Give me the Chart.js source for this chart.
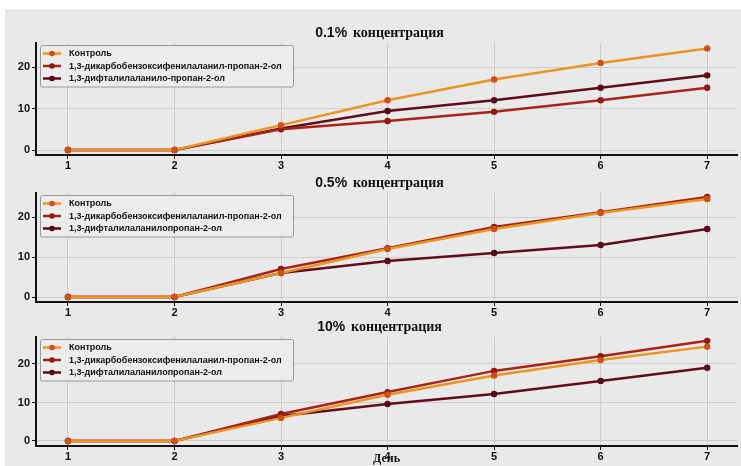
<!DOCTYPE html>
<html>
<head>
<meta charset="utf-8">
<script src="https://cdn.jsdelivr.net/npm/chart.js@4.4.1/dist/chart.umd.min.js"></script>
<style>
  html, body { margin: 0; padding: 0; background: #fff; }
  #wrap { position: relative; width: 741px; height: 466px; overflow: hidden; }
  #bg { position: absolute; left: 5px; top: 9px; right: 0; bottom: 0; background: #e9e9e9; }
  canvas { position: absolute; left: 0; }
</style>
</head>
<body>
<div id="wrap">
  <div id="bg"></div>
  <canvas id="c1" width="741" height="155" style="top:18px"></canvas>
  <canvas id="c2" width="741" height="148" style="top:172px"></canvas>
  <canvas id="c3" width="741" height="150" style="top:316px"></canvas>
</div>
<script>
// data
const days = [1, 2, 3, 4, 5, 6, 7];
const yTicks = [0, 10, 20];
const percents = ['0.1%', '0.5%', '10%'];
const titleWord = 'концентрация';
const xTitle = 'День';

const names01 = ['Контроль', '1,3-дикарбобензоксифенилаланил-пропан-2-ол', '1,3-дифталилаланило-пропан-2-ол'];
const names05 = ['Контроль', '1,3-дикарбобензоксифенилаланил-пропан-2-ол', '1,3-дифталилаланилопропан-2-ол'];
const names10 = ['Контроль', '1,3-дикарбобензоксифенилаланил-пропан-2-ол', '1,3-дифталилаланилопропан-2-ол'];

const control01 = [0, 0, 6, 12, 17, 21, 24.5];
const dikarbo01 = [0, 0, 5, 7, 9.2, 12, 15];
const diftal01 = [0, 0, 5.2, 9.4, 12, 15, 18];

const control05 = [0, 0, 6, 12, 17, 21, 24.5];
const dikarbo05 = [0, 0, 7, 12.2, 17.5, 21.2, 25];
const diftal05 = [0, 0, 6, 9, 11, 13, 17];

const control10 = [0, 0, 6, 12, 17, 21, 24.5];
const dikarbo10 = [0, 0, 7, 12.7, 18.2, 22, 26];
const diftal10 = [0, 0, 6.5, 9.6, 12.2, 15.6, 19];

const lineColors = ['#eb9420', '#a82418', '#620b1c'];
const pointColors = ['#cf4f18', '#8e1a12', '#560818'];

// titles: mixed sans percent + serif word, centred over plot
const titlePlugin = {
  id: 'panelTitle',
  afterDraw(chart) {
    const o = chart.options.plugins.panelTitle;
    const ctx = chart.ctx, a = chart.chartArea;
    ctx.save();
    const f1 = 'bold 14px "Liberation Sans", Arial, sans-serif';
    const f2 = 'bold 14px "Liberation Serif", "Times New Roman", serif';
    ctx.font = f1; const w1 = ctx.measureText(o.pct + ' ').width;
    ctx.font = f2; const w2 = ctx.measureText(titleWord).width;
    let x = (a.left + a.right) / 2 - 8 - (w1 + w2) / 2;
    const y = a.top - 10;
    ctx.fillStyle = '#111';
    ctx.textBaseline = 'middle';
    ctx.font = f1; ctx.fillText(o.pct + ' ', x, y);
    ctx.font = f2; ctx.fillText(titleWord, x + w1 + 2, y);
    ctx.restore();
  }
};

// matplotlib-style legend box inside the plot, upper left
const boxLegend = {
  id: 'boxLegend',
  afterDatasetsDraw(chart) {
    const ctx = chart.ctx, a = chart.chartArea;
    const x0 = a.left + 4, y0 = a.top + 2, w = 253, row = 12.5;
    const h = chart.data.datasets.length * row + 4;
    ctx.save();
    ctx.fillStyle = 'rgba(236,236,236,0.95)';
    ctx.strokeStyle = '#9a9a9a';
    ctx.lineWidth = 1;
    ctx.beginPath();
    ctx.roundRect(x0 + 0.5, y0 + 0.5, w, h, 2);
    ctx.fill(); ctx.stroke();
    ctx.font = 'bold 9px "Liberation Sans", Arial, sans-serif';
    ctx.textBaseline = 'middle';
    chart.data.datasets.forEach((ds, i) => {
      const y = y0 + 8.5 + i * row;
      ctx.strokeStyle = ds.borderColor;
      ctx.lineWidth = 2.5;
      ctx.beginPath(); ctx.moveTo(x0 + 3, y); ctx.lineTo(x0 + 21, y); ctx.stroke();
      ctx.fillStyle = ds.pointBackgroundColor;
      ctx.beginPath(); ctx.arc(x0 + 12, y, 2.8, 0, Math.PI * 2); ctx.fill();
      ctx.fillStyle = '#111';
      ctx.fillText(ds.label, x0 + 29, y + 0.5);
    });
    ctx.restore();
  }
};

function makePanel(id, pct, names, series, yMin, yMax, padTop, xHeight, showXTitle) {
  const datasets = series.map((vals, i) => ({
    label: names[i],
    data: days.map((d, k) => ({ x: d, y: vals[k] })),
    borderColor: lineColors[i],
    backgroundColor: lineColors[i],
    pointBackgroundColor: pointColors[i],
    pointBorderWidth: 0,
    borderWidth: 2.5,
    pointRadius: 3.2,
    tension: 0
  }));
  return new Chart(document.getElementById(id), {
    type: 'line',
    data: { datasets },
    plugins: [titlePlugin, boxLegend],
    options: {
      responsive: false,
      animation: false,
      layout: { padding: { top: padTop, right: 0, bottom: 0, left: 0 } },
      plugins: {
        legend: { display: false },
        title: { display: false },
        tooltip: { enabled: false },
        panelTitle: { pct }
      },
      scales: {
        x: {
          type: 'linear', min: 0.7, max: 7.28,
          afterBuildTicks: s => { s.ticks = days.map(v => ({ value: v })); },
          afterFit: s => { s.height = xHeight; },
          border: { display: true, color: '#111', width: 2 },
          grid: { color: '#cdcdcd', lineWidth: 1, tickColor: '#111', tickLength: 4 },
          ticks: { color: '#111', padding: 0, font: { family: '"Liberation Sans", Arial', weight: 'bold', size: 11 } },
          title: {
            display: showXTitle, text: xTitle, color: '#111', padding: 0,
            font: { family: '"Liberation Serif", "Times New Roman", serif', weight: 'bold', size: 12 }
          }
        },
        y: {
          min: yMin, max: yMax,
          afterBuildTicks: s => { s.ticks = yTicks.map(v => ({ value: v })); },
          afterFit: s => { s.width = 36; },
          border: { display: true, color: '#111', width: 2 },
          grid: { color: '#cdcdcd', lineWidth: 1, tickColor: '#111', tickLength: 4 },
          ticks: { color: '#111', padding: 2, font: { family: '"Liberation Sans", Arial', weight: 'bold', size: 11 } }
        }
      }
    }
  });
}

makePanel('c1', percents[0], names01, [control01, dikarbo01, diftal01], -1.2, 25.8, 25, 18, false);
makePanel('c2', percents[1], names05, [control05, dikarbo05, diftal05], -1.25, 26, 21, 18, false);
makePanel('c3', percents[2], names10, [control10, dikarbo10, diftal10], -1.3, 27, 21, 20, true);
</script>
</body>
</html>
